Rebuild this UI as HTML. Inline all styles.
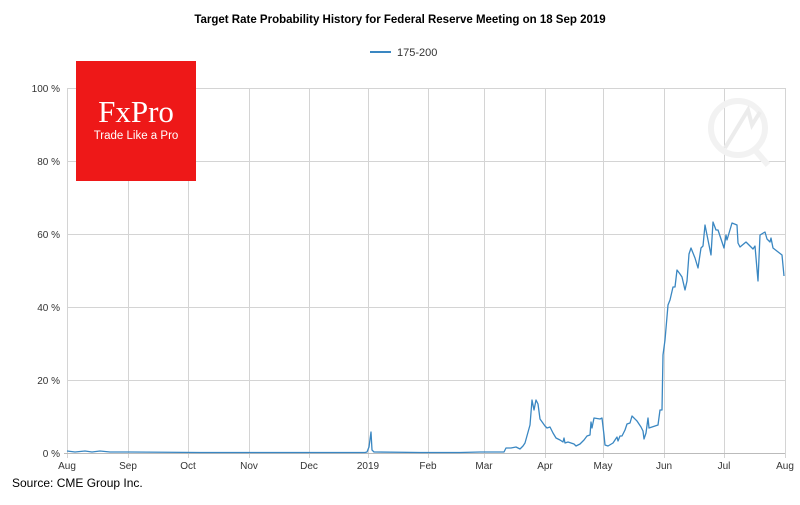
<!DOCTYPE html>
<html><head><meta charset="utf-8"><style>
body{margin:0;background:#fff;width:800px;height:500px;overflow:hidden;font-family:"Liberation Sans",sans-serif}
</style></head><body>
<svg width="800" height="500" xmlns="http://www.w3.org/2000/svg" font-family="Liberation Sans, sans-serif">
<text x="400" y="23" text-anchor="middle" font-size="11.5" font-weight="bold" fill="#000">Target Rate Probability History for Federal Reserve Meeting on 18 Sep 2019</text>
<line x1="370" y1="52" x2="391" y2="52" stroke="#3a87c2" stroke-width="2"/>
<text x="397" y="56" font-size="11" fill="#333">175-200</text>
<g stroke="#d4d4d4" stroke-width="1">
<line x1="67" y1="88.5" x2="785" y2="88.5"/><line x1="67" y1="161.5" x2="785" y2="161.5"/><line x1="67" y1="234.5" x2="785" y2="234.5"/><line x1="67" y1="307.5" x2="785" y2="307.5"/><line x1="67" y1="380.5" x2="785" y2="380.5"/>
<line x1="67.5" y1="88" x2="67.5" y2="458"/><line x1="128.5" y1="88" x2="128.5" y2="458"/><line x1="188.5" y1="88" x2="188.5" y2="458"/><line x1="249.5" y1="88" x2="249.5" y2="458"/><line x1="309.5" y1="88" x2="309.5" y2="458"/><line x1="368.5" y1="88" x2="368.5" y2="458"/><line x1="428.5" y1="88" x2="428.5" y2="458"/><line x1="484.5" y1="88" x2="484.5" y2="458"/><line x1="545.5" y1="88" x2="545.5" y2="458"/><line x1="603.5" y1="88" x2="603.5" y2="458"/><line x1="664.5" y1="88" x2="664.5" y2="458"/><line x1="724.5" y1="88" x2="724.5" y2="458"/><line x1="785.5" y1="88" x2="785.5" y2="458"/>
</g>
<line x1="64" y1="453.5" x2="785" y2="453.5" stroke="#bbb"/>
<g font-size="10" fill="#333" text-anchor="end">
<text x="60" y="92">100 %</text><text x="60" y="165">80 %</text><text x="60" y="238">60 %</text><text x="60" y="311">40 %</text><text x="60" y="384">20 %</text><text x="60" y="457">0 %</text>
</g>
<g font-size="10" fill="#333" text-anchor="middle">
<text x="67" y="469">Aug</text><text x="128" y="469">Sep</text><text x="188" y="469">Oct</text><text x="249" y="469">Nov</text><text x="309" y="469">Dec</text><text x="368" y="469">2019</text><text x="428" y="469">Feb</text><text x="484" y="469">Mar</text><text x="545" y="469">Apr</text><text x="603" y="469">May</text><text x="664" y="469">Jun</text><text x="724" y="469">Jul</text><text x="785" y="469">Aug</text>
</g>
<circle cx="738" cy="128" r="27" fill="none" stroke="#f2f2f2" stroke-width="6"/>
<path d="M755 150 L768 165" stroke="#f2f2f2" stroke-width="6"/>
<path d="M725 148 L748 110 L752 125 L760 112" fill="none" stroke="#ececec" stroke-width="4"/>
<rect x="76" y="61" width="120" height="120" fill="#ee1818"/>
<text x="136" y="122" text-anchor="middle" font-family="Liberation Serif, serif" font-size="31" fill="#fff">FxPro</text>
<text x="136" y="139" text-anchor="middle" font-size="11.5" fill="#fff">Trade Like a Pro</text>
<polyline fill="none" stroke="#3a87c2" stroke-width="1.3" stroke-linejoin="round" points="67,451 75,452 85,451 92,452 100,451 110,452 120,452 130,452 200,452.5 300,452.5 365,452.5 367,452 369,447 371,432 372,450 374,452 420,452.5 460,452.5 480,452 504,452 506,448 511,448 516,447 520,449 523,446 525,443 530,425 532,400 534,410 536,400 538,404 540,419 545,426 547,428 550,427 553,433 556,438 560,440 563,442 564,438 565,443 568,442 574,444 576,446 580,444 584,440 587,436 590,435 591,422 592,428 594,418 600,419 602,418 604,435 605,445 608,446 613,443 617,437 618,441 620,436 622,436 625,430 627,424 630,423 632,416 637,421 641,427 643,431 644,439 646,433 648,418 649,428 658,425 660,410 662,410 663,355 665,340 668,305 670,300 673,287 675,287 677,270 680,274 682,277 685,290 687,281 689,254 691,248 695,258 698,268 701,248 703,246 705,225 708,240 711,255 713,222 716,230 718,230 724,248 726,235 727,240 732,223 737,225 738,243 740,247 746,242 750,246 753,249 755,246 758,281 760,235 765,232 767,239 770,242 771,238 773,248 782,255 784,276"/>
<text x="12" y="487" font-size="12" fill="#000">Source: CME Group Inc.</text>
</svg>
</body></html>
